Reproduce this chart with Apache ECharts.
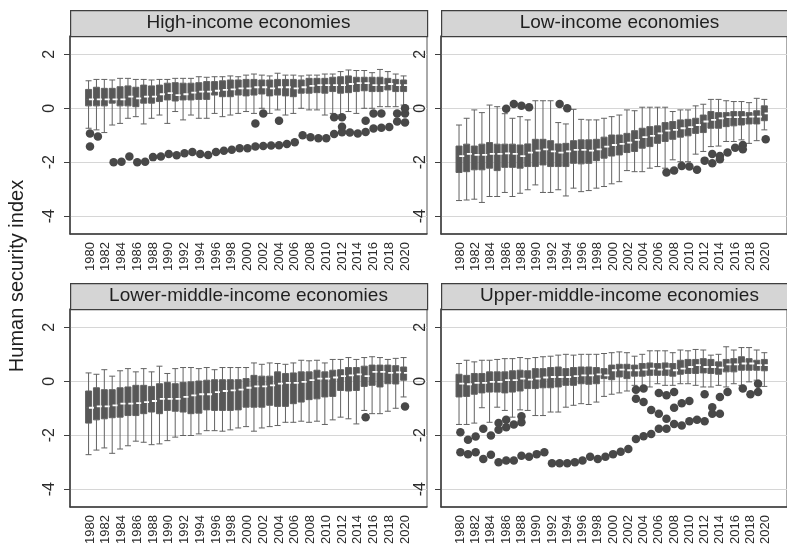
<!DOCTYPE html>
<html>
<head>
<meta charset="utf-8">
<script src="https://cdn.jsdelivr.net/npm/echarts@6/dist/echarts.min.js"></script>
<style>
  html, body { margin: 0; padding: 0; background: #fff; }
  #chart { width: 787px; height: 548px; }
</style>
</head>
<body>
<div id="chart"></div>
<script>
// Survey years shown on every panel
const years = [1980, 1981, 1982, 1983, 1984, 1985, 1986, 1987, 1988, 1989,
  1990, 1991, 1992, 1993, 1994, 1995, 1996, 1997, 1998, 1999,
  2000, 2001, 2002, 2003, 2004, 2005, 2006, 2007, 2008, 2009,
  2010, 2011, 2012, 2013, 2014, 2015, 2016, 2017, 2018, 2019, 2020];

// Labelled years on the horizontal axes
const yearTicks = [1980, 1982, 1984, 1986, 1988, 1990, 1992, 1994, 1996, 1998,
  2000, 2002, 2004, 2006, 2008, 2010, 2012, 2014, 2016, 2018, 2020];

// Labelled values on the vertical axes
const indexTicks = [-4, -2, 0, 2];

// Per-year box summaries: [lower whisker, Q1, median, Q3, upper whisker]
const highIncomeBoxes = [
  [-0.74, 0.09, 0.33, 0.70, 1.02], [-0.80, 0.09, 0.33, 0.78, 1.07], [-0.90, 0.09, 0.33, 0.74, 1.07],
  [-0.62, 0.19, 0.33, 0.74, 1.05], [-0.56, 0.09, 0.33, 0.80, 1.11], [-0.37, 0.09, 0.43, 0.83, 1.11],
  [-0.31, 0.06, 0.37, 0.78, 1.07], [-0.58, 0.19, 0.43, 0.86, 1.07], [-0.37, 0.19, 0.43, 0.83, 1.05],
  [-0.25, 0.25, 0.52, 0.86, 1.07], [-0.56, 0.31, 0.56, 0.93, 1.07], [-0.12, 0.27, 0.49, 0.95, 1.11],
  [-0.43, 0.31, 0.52, 0.93, 1.11], [-0.25, 0.31, 0.58, 0.93, 1.11], [-0.37, 0.33, 0.62, 0.95, 1.17],
  [-0.37, 0.33, 0.62, 0.99, 1.15], [-0.19, 0.49, 0.65, 0.99, 1.17], [-0.31, 0.43, 0.68, 1.02, 1.17],
  [-0.25, 0.43, 0.70, 1.05, 1.20], [-0.19, 0.49, 0.74, 1.05, 1.17], [-0.12, 0.46, 0.74, 1.07, 1.23],
  [-0.19, 0.49, 0.78, 1.07, 1.27], [0.00, 0.53, 0.78, 1.05, 1.23], [-0.19, 0.46, 0.74, 1.05, 1.20],
  [-0.06, 0.49, 0.78, 1.07, 1.30], [-0.25, 0.46, 0.78, 1.07, 1.23], [-0.19, 0.43, 0.74, 1.07, 1.23],
  [0.00, 0.56, 0.78, 1.05, 1.20], [-0.06, 0.56, 0.83, 1.11, 1.23], [-0.06, 0.58, 0.86, 1.11, 1.23],
  [-0.25, 0.56, 0.86, 1.11, 1.27], [-0.19, 0.62, 0.86, 1.15, 1.27], [-0.25, 0.56, 0.86, 1.17, 1.36],
  [-0.12, 0.58, 0.90, 1.20, 1.42], [-0.19, 0.62, 0.93, 1.15, 1.40], [0.00, 0.65, 0.93, 1.15, 1.40],
  [0.00, 0.62, 0.86, 1.15, 1.32], [0.06, 0.62, 0.86, 1.15, 1.44], [0.06, 0.68, 0.90, 1.11, 1.36],
  [0.06, 0.62, 0.86, 1.07, 1.27], [0.12, 0.62, 0.86, 1.05, 1.20]
];

const lowIncomeBoxes = [
  [-3.42, -2.38, -1.77, -1.40, -0.62], [-3.40, -2.35, -1.69, -1.33, -0.37], [-3.37, -2.28, -1.73, -1.40, -0.06],
  [-3.49, -2.28, -1.73, -1.33, -0.16], [-3.27, -2.22, -1.69, -1.27, 0.12], [-3.27, -2.31, -1.69, -1.33, 0.06],
  [-3.12, -2.19, -1.67, -1.33, -0.20], [-3.27, -2.19, -1.69, -1.33, -0.37], [-3.15, -2.22, -1.77, -1.36, -0.31],
  [-3.02, -2.16, -1.64, -1.32, -0.43], [-2.84, -2.16, -1.57, -1.15, 0.28], [-3.12, -2.10, -1.52, -1.15, 0.28],
  [-3.12, -2.16, -1.60, -1.20, 0.28], [-3.02, -2.16, -1.64, -1.32, -0.53], [-3.25, -2.16, -1.60, -1.30, -0.58],
  [-2.96, -2.04, -1.54, -1.20, -0.04], [-3.09, -2.06, -1.54, -1.17, -0.41], [-3.05, -2.04, -1.57, -1.17, -0.43],
  [-2.96, -1.94, -1.52, -1.15, -0.43], [-2.90, -1.85, -1.42, -1.07, -0.37], [-2.80, -1.77, -1.36, -0.99, -0.31],
  [-2.72, -1.73, -1.32, -0.99, -0.25], [-2.31, -1.64, -1.27, -0.93, -0.06], [-2.35, -1.60, -1.17, -0.83, -0.09],
  [-2.35, -1.48, -1.07, -0.74, 0.04], [-2.22, -1.42, -1.02, -0.68, 0.04], [-2.16, -1.30, -0.93, -0.65, 0.04],
  [-2.22, -1.23, -0.83, -0.53, 0.04], [-1.91, -1.15, -0.80, -0.49, -0.12], [-1.98, -1.07, -0.74, -0.43, -0.06],
  [-1.98, -1.02, -0.70, -0.41, -0.06], [-1.70, -0.93, -0.62, -0.37, 0.09], [-1.60, -0.90, -0.49, -0.25, 0.15],
  [-1.42, -0.74, -0.43, -0.12, 0.33], [-1.40, -0.74, -0.37, -0.16, 0.33], [-1.23, -0.68, -0.33, -0.16, 0.28],
  [-1.23, -0.65, -0.33, -0.12, 0.25], [-1.17, -0.62, -0.33, -0.12, 0.25], [-1.30, -0.58, -0.31, -0.16, 0.21],
  [-1.20, -0.58, -0.31, -0.09, 0.37], [-0.80, -0.46, -0.19, 0.09, 0.33]
];

const lowerMiddleBoxes = [
  [-2.72, -1.55, -0.98, -0.36, 0.31], [-2.55, -1.43, -0.93, -0.24, 0.26], [-2.47, -1.39, -0.93, -0.31, 0.43],
  [-2.67, -1.35, -0.89, -0.31, 0.19], [-2.51, -1.33, -0.83, -0.24, 0.39], [-2.39, -1.27, -0.83, -0.21, 0.47],
  [-2.22, -1.27, -0.81, -0.15, 0.35], [-2.26, -1.20, -0.77, -0.15, 0.47], [-2.35, -1.14, -0.73, -0.19, 0.35],
  [-2.32, -1.20, -0.65, -0.09, 0.56], [-2.20, -1.08, -0.65, -0.04, 0.29], [-2.07, -1.11, -0.65, -0.09, 0.47],
  [-2.01, -1.14, -0.58, -0.04, 0.51], [-2.01, -1.20, -0.52, -0.02, 0.51], [-1.95, -1.18, -0.48, 0.01, 0.47],
  [-1.83, -1.06, -0.48, 0.04, 0.51], [-1.83, -1.08, -0.40, 0.06, 0.43], [-1.85, -1.08, -0.36, 0.06, 0.51],
  [-1.80, -1.08, -0.34, 0.06, 0.51], [-1.73, -1.06, -0.31, 0.06, 0.51], [-1.68, -0.96, -0.24, 0.10, 0.51],
  [-1.85, -0.96, -0.19, 0.22, 0.68], [-1.73, -0.96, -0.19, 0.19, 0.63], [-1.68, -0.89, -0.15, 0.19, 0.68],
  [-1.64, -0.93, -0.09, 0.35, 0.66], [-1.52, -0.93, -0.06, 0.29, 0.63], [-1.52, -0.83, -0.06, 0.31, 0.68],
  [-1.48, -0.77, -0.02, 0.35, 0.78], [-1.52, -0.68, 0.04, 0.35, 0.76], [-1.48, -0.65, 0.10, 0.41, 0.78],
  [-1.60, -0.58, 0.10, 0.35, 0.68], [-1.43, -0.56, 0.14, 0.41, 0.81], [-1.33, -0.34, 0.19, 0.43, 0.81],
  [-1.39, -0.36, 0.22, 0.51, 0.88], [-1.58, -0.34, 0.26, 0.51, 0.81], [-1.08, -0.19, 0.19, 0.56, 0.88],
  [-1.20, -0.15, 0.35, 0.60, 0.91], [-1.20, -0.21, 0.35, 0.60, 0.88], [-1.11, -0.09, 0.31, 0.60, 0.81],
  [-1.00, -0.10, 0.33, 0.58, 0.85], [-0.58, 0.04, 0.31, 0.53, 0.88]
];

const upperMiddleBoxes = [
  [-1.60, -0.58, -0.09, 0.26, 0.66], [-1.60, -0.56, -0.11, 0.22, 0.78], [-1.55, -0.48, -0.06, 0.29, 0.72],
  [-0.98, -0.43, -0.06, 0.29, 0.78], [-1.52, -0.40, -0.02, 0.35, 0.78], [-0.96, -0.40, -0.02, 0.35, 0.81],
  [-1.08, -0.43, 0.04, 0.35, 0.84], [-1.33, -0.40, 0.04, 0.39, 0.84], [-1.06, -0.36, 0.10, 0.41, 0.88],
  [-1.08, -0.27, 0.06, 0.39, 0.84], [-1.27, -0.27, 0.10, 0.47, 0.88], [-1.27, -0.24, 0.14, 0.47, 0.91],
  [-1.14, -0.24, 0.16, 0.51, 0.93], [-1.14, -0.21, 0.16, 0.53, 0.97], [-0.96, -0.15, 0.16, 0.47, 1.00],
  [-0.89, -0.15, 0.19, 0.51, 0.97], [-0.83, -0.09, 0.22, 0.53, 1.00], [-0.86, -0.11, 0.22, 0.53, 1.00],
  [-0.77, -0.09, 0.26, 0.51, 1.00], [-0.56, 0.10, 0.22, 0.47, 1.03], [-0.48, 0.06, 0.41, 0.60, 1.06],
  [-0.43, 0.16, 0.43, 0.63, 1.09], [-0.36, 0.10, 0.41, 0.63, 1.06], [-0.15, 0.19, 0.41, 0.60, 0.93],
  [-0.24, 0.19, 0.43, 0.66, 1.00], [-0.21, 0.22, 0.47, 0.68, 1.13], [-0.09, 0.22, 0.43, 0.66, 1.13],
  [-0.15, 0.22, 0.47, 0.68, 1.13], [-0.15, 0.19, 0.41, 0.66, 1.06], [-0.09, 0.26, 0.47, 0.78, 1.16],
  [-0.09, 0.29, 0.53, 0.81, 1.13], [-0.15, 0.29, 0.60, 0.81, 1.18], [-0.21, 0.31, 0.53, 0.84, 1.16],
  [-0.21, 0.29, 0.53, 0.81, 0.97], [-0.15, 0.26, 0.51, 0.72, 1.00], [-0.21, 0.35, 0.63, 0.81, 1.28],
  [-0.09, 0.35, 0.63, 0.84, 1.16], [-0.15, 0.41, 0.66, 0.91, 1.25], [-0.02, 0.41, 0.66, 0.84, 1.25],
  [0.04, 0.41, 0.60, 0.78, 1.16], [-0.19, 0.39, 0.60, 0.81, 1.06]
];

// Outlying economies: [year, index value]
const highIncomeOutliers = [
  [1980, -0.93], [1980, -1.42], [1981, -1.05], [1983, -2.00], [1984, -1.98], [1985, -1.79],
  [1986, -2.00], [1987, -1.98], [1988, -1.81], [1989, -1.79], [1990, -1.69], [1991, -1.74],
  [1992, -1.67], [1993, -1.62], [1994, -1.69], [1995, -1.73], [1996, -1.62], [1997, -1.57],
  [1998, -1.54], [1999, -1.48], [2000, -1.48], [2001, -1.42], [2001, -0.56], [2002, -1.40],
  [2002, -0.19], [2003, -1.38], [2004, -1.37], [2004, -0.46], [2005, -1.32], [2006, -1.26],
  [2007, -1.00], [2008, -1.07], [2009, -1.11], [2010, -1.11], [2011, -0.95], [2011, -0.33],
  [2012, -0.89], [2012, -0.68], [2012, -0.33], [2013, -0.90], [2014, -0.93], [2015, -0.88],
  [2015, -0.46], [2016, -0.75], [2016, -0.19], [2017, -0.72], [2017, -0.19], [2018, -0.69],
  [2019, -0.49], [2019, -0.19], [2020, -0.53], [2020, -0.19], [2020, 0.00]
];

const lowIncomeOutliers = [
  [1986, -0.02], [1987, 0.16], [1988, 0.09], [1989, 0.04], [1993, 0.16], [1994, 0.00],
  [2007, -2.38], [2008, -2.31], [2009, -2.14], [2010, -2.16], [2011, -2.28], [2012, -1.94],
  [2013, -1.69], [2013, -2.04], [2014, -1.77], [2014, -1.89], [2015, -1.64], [2016, -1.46],
  [2017, -1.36], [2017, -1.52], [2020, -1.15]
];

const lowerMiddleOutliers = [
  [2015, -1.33], [2020, -0.93]
];

const upperMiddleOutliers = [
  [1980, -1.89], [1980, -2.63], [1981, -2.17], [1981, -2.70], [1982, -2.05], [1982, -2.63],
  [1983, -1.76], [1983, -2.88], [1984, -2.01], [1984, -2.72], [1985, -1.80], [1985, -1.55],
  [1985, -3.00], [1986, -1.43], [1986, -1.70], [1986, -2.94], [1987, -1.60], [1987, -2.94],
  [1988, -1.52], [1988, -1.30], [1988, -2.76], [1989, -2.80], [1990, -2.70], [1991, -2.63],
  [1992, -3.04], [1993, -3.04], [1994, -3.04], [1995, -3.00], [1996, -2.94], [1997, -2.80],
  [1998, -2.88], [1999, -2.80], [2000, -2.70], [2001, -2.61], [2002, -2.51], [2003, -2.14],
  [2003, -0.31], [2003, -0.65], [2004, -2.04], [2004, -0.27], [2004, -0.77], [2005, -1.95],
  [2005, -1.06], [2006, -1.76], [2006, -1.20], [2006, -0.43], [2007, -1.76], [2007, -1.39],
  [2007, -0.52], [2008, -1.58], [2008, -0.98], [2008, -0.40], [2009, -1.64], [2009, -0.81],
  [2010, -1.48], [2010, -0.73], [2011, -1.43], [2012, -1.48], [2012, -0.48], [2013, -1.20],
  [2013, -0.96], [2014, -1.20], [2014, -0.58], [2015, -0.40], [2017, -0.27], [2018, -0.48],
  [2019, -0.40], [2019, -0.09]
];

const panelTitles = [
  'High-income economies', 'Low-income economies',
  'Lower-middle-income economies', 'Upper-middle-income economies'
];

const FONT = '"Liberation Sans", Arial, Helvetica, sans-serif';
const PANEL_W = 357, PANEL_H = 198, HEADER_H = 26;
const BOX_W = 6;
const panelLayout = [
  { left: 70, top: 36 }, { left: 441, top: 36 },
  { left: 70, top: 309 }, { left: 441, top: 309 }
];
const panelBoxes = [highIncomeBoxes, lowIncomeBoxes, lowerMiddleBoxes, upperMiddleBoxes];
const panelOutliers = [highIncomeOutliers, lowIncomeOutliers, lowerMiddleOutliers, upperMiddleOutliers];

const frameLine = { color: '#3f3f3f', width: 1.5 };
const grid = [], xAxis = [], yAxis = [], series = [], graphic = [];

panelTitles.forEach((title, i) => {
  const pos = panelLayout[i];
  const boxes = panelBoxes[i];

  grid.push({
    left: pos.left, top: pos.top, width: PANEL_W, height: PANEL_H,
    show: true, borderColor: '#555', borderWidth: 1
  });

  xAxis.push({
    type: 'value', gridIndex: i, min: 1977.46, max: 2022.79,
    axisLine: { show: true, onZero: false, lineStyle: frameLine },
    axisTick: { show: false },
    splitLine: { show: false },
    axisLabel: {
      customValues: yearTicks, rotate: 90, margin: 8,
      fontSize: 13, color: '#2b2b2b', fontFamily: FONT,
      formatter: v => String(v)
    }
  });

  yAxis.push({
    type: 'value', gridIndex: i, min: -4.66, max: 2.68,
    axisLine: { show: true, onZero: false, lineStyle: frameLine },
    axisTick: { show: true, length: 6, customValues: indexTicks, lineStyle: { color: '#3f3f3f', width: 1 } },
    axisLabel: {
      customValues: indexTicks, rotate: 90, margin: 12,
      fontSize: 16, color: '#2b2b2b', fontFamily: FONT
    },
    splitLine: { show: true, lineStyle: { color: '#d6d6d6', width: 1 } }
  });

  // boxes and whiskers
  series.push({
    type: 'boxplot', xAxisIndex: i, yAxisIndex: i, silent: true,
    boxWidth: [BOX_W, BOX_W],
    data: years.map((y, k) => [y].concat(boxes[k])),
    itemStyle: { color: '#575757', borderColor: '#626262', borderWidth: 1 },
    z: 2
  });

  // white median strokes: a zero-height box collapsed onto each median
  series.push({
    type: 'boxplot', xAxisIndex: i, yAxisIndex: i, silent: true,
    boxWidth: [BOX_W - 1, BOX_W - 1],
    data: years.map((y, k) => {
      const m = boxes[k][2];
      return [y, m, m, m, m, m];
    }),
    itemStyle: { color: '#ffffff', borderColor: '#ffffff', borderWidth: 1.8 },
    z: 5
  });

  // outliers
  series.push({
    type: 'scatter', xAxisIndex: i, yAxisIndex: i, silent: true,
    symbol: 'circle', symbolSize: 8.5,
    data: panelOutliers[i],
    itemStyle: { color: '#484848', opacity: 1 },
    z: 6
  });

  // panel header strip
  graphic.push({
    type: 'rect', left: pos.left, top: pos.top - HEADER_H, silent: true,
    shape: { width: PANEL_W, height: HEADER_H },
    style: { fill: '#d5d5d5', stroke: '#3f3f3f', lineWidth: 1.2 }
  });
  graphic.push({
    type: 'text', silent: true,
    x: pos.left + PANEL_W / 2, y: pos.top - HEADER_H / 2,
    style: {
      text: title, fill: '#1f1f1f', font: '19px ' + FONT,
      textAlign: 'center', textVerticalAlign: 'middle'
    }
  });
});

// shared vertical axis title
graphic.push({
  type: 'text', silent: true, x: 17, y: 276, rotation: Math.PI / 2,
  style: {
    text: 'Human security index', fill: '#1f1f1f', font: '20px ' + FONT,
    textAlign: 'center', textVerticalAlign: 'middle'
  }
});

const chart = echarts.init(document.getElementById('chart'), null, { renderer: 'canvas' });
chart.setOption({
  animation: false,
  backgroundColor: '#ffffff',
  grid, xAxis, yAxis, series, graphic
});
</script>
</body>
</html>
